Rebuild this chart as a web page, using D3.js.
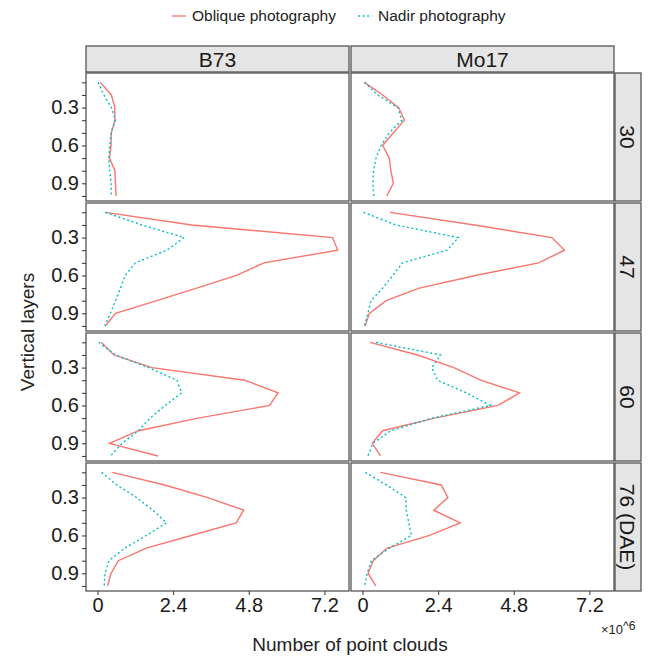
<!DOCTYPE html>
<meta charset="utf-8">
<script src="https://d3js.org/d3.v7.min.js"></script>
<style>
    body { margin: 0; background: #fff; }
    svg text { font-family: "Liberation Sans", Arial, sans-serif; }
</style>
<div id="chart"></div>
<script>

    // layers (relative height) and facets
    var layers = [0.1, 0.2, 0.3, 0.4, 0.5, 0.6, 0.7, 0.8, 0.9, 1.0];
    var cultivars = ["B73", "Mo17"];
    var stages = ["30", "47", "60", "76 (DAE)"];
    var seriesNames = ["Oblique photography", "Nadir photography"];
    var xTicks = [0, 2.4, 4.8, 7.2];
    var yTicks = [0.1, 0.2, 0.3, 0.4, 0.5, 0.6, 0.7, 0.8, 0.9, 1.0];
    var yLabels = [0.3, 0.6, 0.9];

    // number of point clouds (x10^6), one row per stage
    var b73Oblique = [
        [0.09, 0.44, 0.55, 0.55, 0.44, 0.43, 0.38, 0.55, 0.57, 0.59],
        [0.25, 2.99, 7.46, 7.62, 5.28, 4.41, 3.15, 1.88, 0.57, 0.25],
        [0.12, 0.52, 1.73, 4.67, 5.73, 5.46, 3.19, 1.30, 0.38, 1.92],
        [0.47, 2.13, 3.50, 4.64, 4.40, 2.97, 1.55, 0.66, 0.43, 0.32]
    ];
    var b73Nadir = [
        [0.02, 0.20, 0.44, 0.57, 0.43, 0.39, 0.36, 0.39, 0.43, 0.44],
        [0.25, 1.41, 2.75, 2.20, 1.20, 0.88, 0.73, 0.57, 0.41, 0.23],
        [0.04, 0.57, 1.62, 2.52, 2.67, 2.15, 1.67, 1.30, 0.78, 0.41],
        [0.13, 0.61, 1.24, 1.76, 2.19, 1.55, 0.87, 0.36, 0.24, 0.21]
    ];
    var mo17Oblique = [
        [0.06, 0.64, 1.15, 1.33, 0.98, 0.64, 0.85, 0.90, 0.98, 0.77],
        [0.87, 3.55, 6.01, 6.41, 5.59, 3.59, 1.80, 0.75, 0.22, 0.08],
        [0.24, 1.75, 2.90, 3.75, 4.98, 4.30, 2.29, 0.64, 0.31, 0.57],
        [0.57, 2.50, 2.71, 2.26, 3.10, 2.13, 0.78, 0.34, 0.18, 0.42]
    ];
    var mo17Nadir = [
        [0.06, 0.48, 1.12, 1.25, 0.85, 0.59, 0.43, 0.35, 0.33, 0.36],
        [0.03, 1.06, 3.04, 2.69, 1.27, 0.96, 0.64, 0.27, 0.17, 0.06],
        [0.43, 2.48, 2.20, 2.38, 3.29, 4.06, 2.22, 0.90, 0.33, 0.17],
        [0.09, 0.76, 1.37, 1.39, 1.47, 1.55, 0.86, 0.28, 0.15, 0.07]
    ];

    var seriesData = {
        "B73": [b73Oblique, b73Nadir],
        "Mo17": [mo17Oblique, mo17Nadir]
    };
    var colors = ["#F8766D", "#00BFC4"];
    var dashes = [null, "2,2.6"];

    // layout
    var width = 651, height = 656;
    var colX = [86, 351], pw = 263;
    var rowY = [73, 203, 333, 463], ph = 128;
    var stripH = 26;

    var svg = d3.select("#chart")
        .append("svg")
        .attr("width", width)
        .attr("height", height);

    var x = d3.scaleLinear().domain([-0.365, 7.98]).range([0, pw]);
    var y = d3.scaleLinear().domain([0.026, 1.04]).range([0, ph]);

    var line = d3.line()
        .x(function(d) { return x(d.v); })
        .y(function(d) { return y(d.layer); });

    // legend
    var legend = svg.append("g");
    var legX = [172, 358];
    seriesNames.forEach(function(name, i) {
        legend.append("line")
            .attr("x1", legX[i]).attr("x2", legX[i] + 14)
            .attr("y1", 16).attr("y2", 16)
            .attr("stroke", colors[i])
            .attr("stroke-width", 1.3)
            .attr("stroke-dasharray", dashes[i]);
        legend.append("text")
            .attr("x", legX[i] + 20).attr("y", 21)
            .attr("font-size", 15.5)
            .attr("fill", "#222")
            .text(name);
    });

    // top strips
    cultivars.forEach(function(c, ci) {
        svg.append("rect")
            .attr("x", colX[ci]).attr("y", rowY[0] - stripH - 1)
            .attr("width", pw).attr("height", stripH)
            .attr("fill", "#e5e5e5").attr("stroke", "#555").attr("stroke-width", 1.3);
        svg.append("text")
            .attr("x", colX[ci] + pw / 2).attr("y", rowY[0] - stripH / 2 - 1)
            .attr("dy", "0.36em")
            .attr("text-anchor", "middle")
            .attr("font-size", 21)
            .attr("fill", "#1a1a1a")
            .text(c);
    });

    // right strips
    stages.forEach(function(s, ri) {
        var sx = colX[1] + pw + 1;
        svg.append("rect")
            .attr("x", sx).attr("y", rowY[ri])
            .attr("width", stripH).attr("height", ph)
            .attr("fill", "#e5e5e5").attr("stroke", "#555").attr("stroke-width", 1.3);
        svg.append("text")
            .attr("transform", "translate(" + (sx + stripH / 2) + "," + (rowY[ri] + ph / 2) + ") rotate(90)")
            .attr("dy", "0.36em")
            .attr("text-anchor", "middle")
            .attr("font-size", 21)
            .attr("fill", "#1a1a1a")
            .text(s);
    });

    // panels
    stages.forEach(function(s, ri) {
        cultivars.forEach(function(c, ci) {
            var g = svg.append("g")
                .attr("transform", "translate(" + colX[ci] + "," + rowY[ri] + ")");

            g.append("rect")
                .attr("width", pw).attr("height", ph)
                .attr("fill", "#fff");

            seriesData[c].forEach(function(arr, si) {
                var pts = layers.map(function(l, i) { return {layer: l, v: arr[ri][i]}; });
                g.append("path")
                    .datum(pts)
                    .attr("d", line)
                    .attr("fill", "none")
                    .attr("stroke", colors[si])
                    .attr("stroke-width", 1.4)
                    .attr("stroke-dasharray", dashes[si]);
            });

            g.append("rect")
                .attr("width", pw).attr("height", ph)
                .attr("fill", "none")
                .attr("stroke", "#555").attr("stroke-width", 1.3);

            // y axis on the left column
            if (ci === 0) {
                var yAxis = g.append("g")
                    .call(d3.axisLeft(y).tickValues(yTicks).tickSize(4)
                        .tickFormat(function(d) {
                            return yLabels.some(function(l) { return Math.abs(l - d) < 1e-6; }) ? d3.format(".1f")(d) : "";
                        }));
                yAxis.select(".domain").remove();
                yAxis.selectAll(".tick line").attr("stroke", "#333");
                yAxis.selectAll(".tick text")
                    .attr("font-size", 20)
                    .attr("fill", "#1a1a1a")
                    .attr("font-family", "Liberation Sans, Arial, sans-serif");
            }

            // x axis on the bottom row
            if (ri === stages.length - 1) {
                var xAxis = g.append("g")
                    .attr("transform", "translate(0," + ph + ")")
                    .call(d3.axisBottom(x).tickValues(xTicks).tickSize(4)
                        .tickFormat(function(d) { return d === 0 ? "0" : d3.format(".1f")(d); }));
                xAxis.select(".domain").remove();
                xAxis.selectAll(".tick line").attr("stroke", "#333");
                xAxis.selectAll(".tick text")
                    .attr("font-size", 20)
                    .attr("fill", "#1a1a1a")
                    .attr("font-family", "Liberation Sans, Arial, sans-serif");
            }
        });
    });

    // multiplier note
    var mult = svg.append("text")
        .attr("x", 601).attr("y", 634)
        .attr("font-size", 13)
        .attr("fill", "#222")
        .text("×10");
    mult.append("tspan")
        .attr("dy", -4)
        .attr("font-size", 12)
        .text("^6");

    // axis titles
    svg.append("text")
        .attr("x", colX[0] + (colX[1] + pw - colX[0]) / 2)
        .attr("y", 651)
        .attr("text-anchor", "middle")
        .attr("font-size", 19)
        .attr("fill", "#222")
        .text("Number of point clouds");

    svg.append("text")
        .attr("transform", "translate(34," + (rowY[0] + (rowY[3] + ph - rowY[0]) / 2) + ") rotate(-90)")
        .attr("text-anchor", "middle")
        .attr("font-size", 19)
        .attr("fill", "#222")
        .text("Vertical layers");

</script>
